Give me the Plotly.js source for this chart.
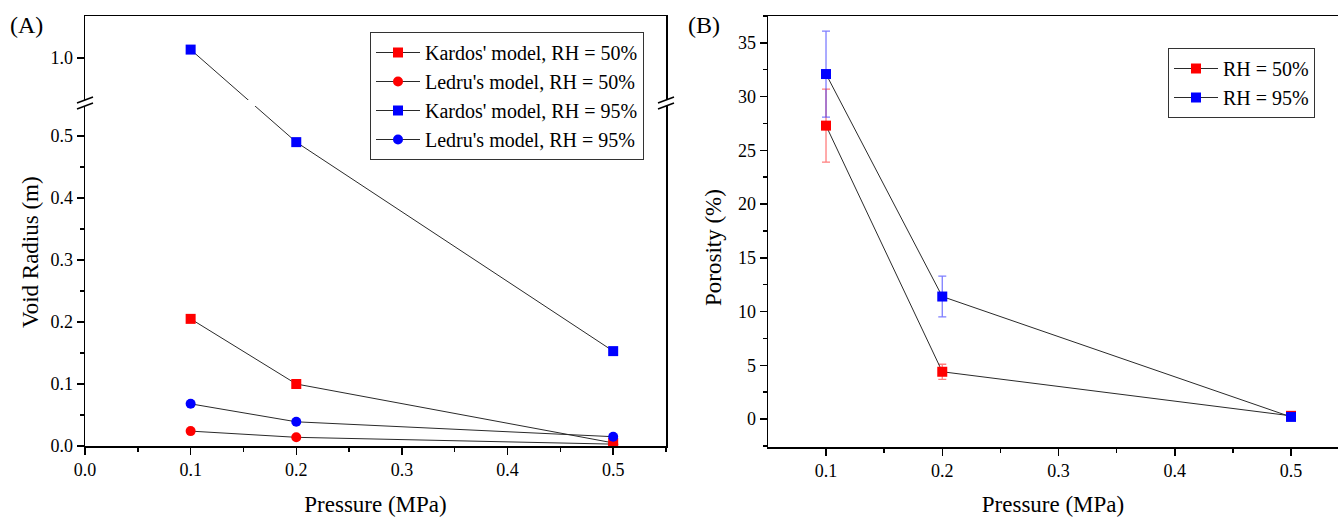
<!DOCTYPE html>
<html><head><meta charset="utf-8">
<script src="https://cdn.plot.ly/plotly-3.0.1.min.js"></script>
<style>html,body{margin:0;padding:0;background:#fff;overflow:hidden}#chart{width:1338px;height:517px}</style>
</head><body><div id="chart"></div>
<script>
// ---------- data ----------
const pressure = [0.1, 0.2, 0.5];
const kardos50 = [0.205, 0.100, 0.005];
const ledru50  = [0.024, 0.014, 0.003];
const kardos95 = [1.04, 0.490, 0.153];
const ledru95  = [0.068, 0.039, 0.015];
const seriesNamesA = ["Kardos' model, RH = 50%", "Ledru's model, RH = 50%", "Kardos' model, RH = 95%", "Ledru's model, RH = 95%"];
const radiusTickVals = [0.0, 0.1, 0.2, 0.3, 0.4, 0.5, 1.0];
const radiusTickText = ['0.0', '0.1', '0.2', '0.3', '0.4', '0.5', '1.0'];
const radiusMinorVals = [0.05, 0.15, 0.25, 0.35, 0.45];

const porosity50    = [27.3, 4.4, 0.3];
const porosity50Err = [3.4, 0.7, 0.15];
const porosity95    = [32.1, 11.4, 0.2];
const porosity95Err = [4.0, 1.9, 0.1];
const seriesNamesB = ['RH = 50%', 'RH = 95%'];

// ---------- broken axis transform (lower 0–0.55, upper 0.8–1.2) ----------
const LOW_MAX = 0.55, UP_MIN = 0.8, UP_MAX = 1.2, BREAK_D = 0.558, UP_K = 0.3385;
function toDisplay(v) { return v <= LOW_MAX ? v : BREAK_D + (v - UP_MIN) * UP_K; }
const dispTop = toDisplay(UP_MAX);

// ---------- helpers for decoration positions (pixels -> paper) ----------
const W = 1338, H = 517;
const px = x => x / W;
const py = y => 1 - y / H;

const FONT = '"Liberation Serif", "Times New Roman", Times, serif';
const LINE = '#2a2a2a';
const RED = '#ff0000', BLUE = '#0000ff';

function lineTrace(y, name, color, symbol, xa, ya, legend) {
  return {
    x: pressure, y: y, name: name, type: 'scatter', mode: 'lines+markers',
    xaxis: xa, yaxis: ya, legend: legend,
    line: {color: LINE, width: 1},
    marker: {color: color, size: 10, symbol: symbol, line: {width: 0}}
  };
}

const traces = [
  lineTrace(kardos50.map(toDisplay), seriesNamesA[0], RED, 'square', 'x', 'y', 'legend'),
  lineTrace(ledru50.map(toDisplay), seriesNamesA[1], RED, 'circle', 'x', 'y', 'legend'),
  lineTrace(kardos95.map(toDisplay), seriesNamesA[2], BLUE, 'square', 'x', 'y', 'legend'),
  lineTrace(ledru95.map(toDisplay), seriesNamesA[3], BLUE, 'circle', 'x', 'y', 'legend'),
];
const p50 = lineTrace(porosity50, seriesNamesB[0], RED, 'square', 'x2', 'y2', 'legend2');
p50.error_y = {type: 'data', array: porosity50Err, visible: true, color: 'rgba(255,40,40,0.6)', thickness: 1.3, width: 4};
const p95 = lineTrace(porosity95, seriesNamesB[1], BLUE, 'square', 'x2', 'y2', 'legend2');
p95.error_y = {type: 'data', array: porosity95Err, visible: true, color: 'rgba(40,40,255,0.6)', thickness: 1.3, width: 4};
traces.push(p50, p95);

const tickFont = {family: FONT, size: 18, color: '#000'};
const titleFont = {family: FONT, size: 23, color: '#000'};
const axisCommon = {
  showgrid: false, zeroline: false, showline: true, linecolor: '#000', linewidth: 1.5,
  ticks: 'outside', ticklen: 7, tickwidth: 1.5, tickcolor: '#000', tickfont: tickFont,
  automargin: false, fixedrange: true
};

// break marks
const breakTop = 100, breakBot = 106;
function slash(x, y) {
  return {type: 'line', xref: 'paper', yref: 'paper', layer: 'above',
    x0: px(x - 8), y0: py(y + 3), x1: px(x + 8), y1: py(y - 3), line: {color: '#000', width: 1.5}};
}
const shapes = [
  {type: 'rect', xref: 'paper', yref: 'paper', layer: 'above', x0: px(80), x1: px(672),
   y0: py(breakBot), y1: py(breakTop), fillcolor: '#fff', line: {width: 0}},
  slash(85, breakTop), slash(85, breakBot), slash(666, breakTop), slash(666, breakBot)
];

const layout = {
  width: W, height: H, margin: {l: 0, r: 0, t: 0, b: 0},
  paper_bgcolor: '#fff', plot_bgcolor: '#fff',
  font: {family: FONT, color: '#000'},
  showlegend: true,
  xaxis: Object.assign({}, axisCommon, {
    domain: [px(85), px(666)], anchor: 'y', range: [0, 0.55], tick0: 0, dtick: 0.1, tickformat: '.1f',
    mirror: true, minor: {ticks: 'outside', dtick: 0.05, tick0: 0, ticklen: 4, tickwidth: 1.5, tickcolor: '#000'},
    title: {text: 'Pressure (MPa)', font: titleFont, standoff: 18}
  }),
  yaxis: Object.assign({}, axisCommon, {
    domain: [py(446), py(16)], anchor: 'x', range: [0, dispTop],
    tickmode: 'array', tickvals: radiusTickVals.map(toDisplay), ticktext: radiusTickText,
    mirror: true,
    minor: {ticks: 'outside', tickmode: 'array', tickvals: radiusMinorVals.map(toDisplay), ticklen: 4, tickwidth: 1.5, tickcolor: '#000'}
  }),
  xaxis2: Object.assign({}, axisCommon, {
    domain: [px(768), 1], anchor: 'y2', range: [0.0501, 0.5404], tick0: 0.1, dtick: 0.1, tickformat: '.1f',
    mirror: true, minor: {ticks: 'outside', dtick: 0.05, tick0: 0.05, ticklen: 4, tickwidth: 1.5, tickcolor: '#000'},
    title: {text: 'Pressure (MPa)', font: titleFont, standoff: 18}
  }),
  yaxis2: Object.assign({}, axisCommon, {
    domain: [py(447), py(16)], anchor: 'x2', range: [-2.6, 37.5], tick0: 0, dtick: 5,
    mirror: false, minor: {ticks: 'outside', dtick: 2.5, tick0: 0, ticklen: 4, tickwidth: 1.5, tickcolor: '#000'}
  }),
  legend: {x: px(644), xanchor: 'right', y: py(32), yanchor: 'top', bgcolor: '#fff',
    bordercolor: '#333', borderwidth: 1, font: {family: FONT, size: 20, color: '#000'}, itemwidth: 44},
  legend2: {x: px(1315), xanchor: 'right', y: py(48), yanchor: 'top', bgcolor: '#fff',
    bordercolor: '#333', borderwidth: 1, font: {family: FONT, size: 20, color: '#000'}, itemwidth: 44},
  annotations: [
    {text: '(A)', xref: 'paper', yref: 'paper', x: px(8), y: py(25), xanchor: 'left', yanchor: 'middle', showarrow: false, font: {family: FONT, size: 24, color: '#000'}},
    {text: '(B)', xref: 'paper', yref: 'paper', x: px(686), y: py(25), xanchor: 'left', yanchor: 'middle', showarrow: false, font: {family: FONT, size: 24, color: '#000'}},
    {text: 'Void Radius (m)', xref: 'paper', yref: 'paper', x: px(30), y: py(252), textangle: -90, xanchor: 'center', yanchor: 'middle', showarrow: false, font: titleFont},
    {text: 'Porosity (%)', xref: 'paper', yref: 'paper', x: px(713), y: py(247), textangle: -90, xanchor: 'center', yanchor: 'middle', showarrow: false, font: titleFont}
  ],
  shapes: shapes
};

Plotly.newPlot('chart', traces, layout, {staticPlot: true, displayModeBar: false});
</script>
</body></html>
